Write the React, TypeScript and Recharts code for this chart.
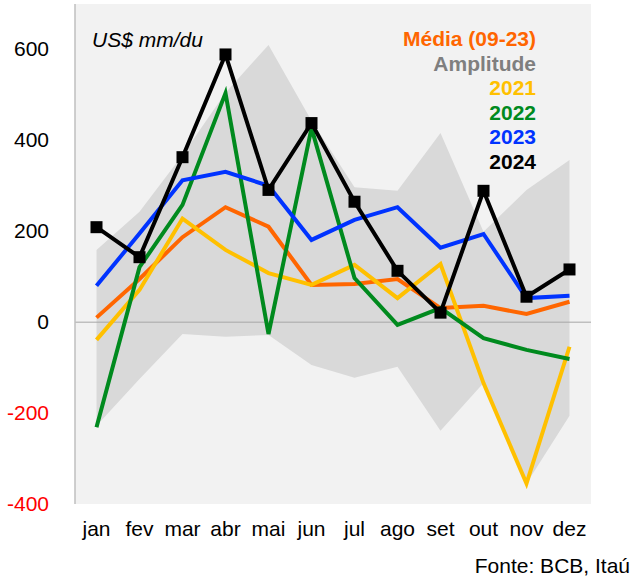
import {
  Area,
  CartesianGrid,
  ComposedChart,
  Line,
  ReferenceLine,
  XAxis,
  YAxis,
} from "recharts";

const months = ["jan", "fev", "mar", "abr", "mai", "jun", "jul", "ago", "set", "out", "nov", "dez"];
const media = [10, 95, 187, 253, 210, 82, 84, 95, 31, 36, 18, 45];
const ampMin = [-228, -125, -26, -32, -28, -94, -122, -98, -239, -134, -355, -206];
const ampMax = [159, 243, 368, 505, 610, 443, 297, 289, 416, 199, 291, 357];
const y2021 = [-39, 71, 228, 159, 108, 82, 126, 53, 128, -134, -355, -54];
const y2022 = [-231, 121, 258, 504, -26, 427, 97, -6, 31, -35, -61, -81];
const y2023 = [80, 195, 312, 331, 300, 181, 225, 253, 164, 194, 53, 58];
const y2024 = [209, 143, 363, 589, 291, 438, 265, 113, 21, 289, 56, 116];
const yTicks = [-400, -200, 0, 200, 400, 600];

const legendItems = [
  { label: "Média (09-23)", color: "#ff6600" },
  { label: "Amplitude", color: "#7f7f7f" },
  { label: "2021", color: "#ffc000" },
  { label: "2022", color: "#008a1e" },
  { label: "2023", color: "#0033ff" },
  { label: "2024", color: "#000000" },
];

const data = months.map((m, i) => ({
  month: m,
  range: [ampMin[i], ampMax[i]],
  media: media[i],
  y2021: y2021[i],
  y2022: y2022[i],
  y2023: y2023[i],
  y2024: y2024[i],
}));

const FONT = '"Liberation Sans", Arial, sans-serif';

const YTick = (props: any) => {
  const { x, y, payload } = props;
  return (
    <text
      x={x}
      y={y}
      dy={7}
      textAnchor="end"
      fontFamily={FONT}
      fontSize={21}
      fill={payload.value < 0 ? "#ff0000" : "#000000"}
    >
      {payload.value}
    </text>
  );
};

const Square = (props: any) => {
  const { cx, cy, index } = props;
  if (cx == null || cy == null) return <g key={`sq-${index}`} />;
  return <rect key={`sq-${index}`} x={cx - 6} y={cy - 6} width={12} height={12} fill="#000" />;
};

export default function App() {
  return (
    <div style={{ position: "absolute", left: 0, top: 0, width: 634, height: 582, background: "#fff" }}>
      <ComposedChart
        width={634}
        height={582}
        data={data}
        margin={{ top: 4, right: 43, left: 0, bottom: 0 }}
      >
        <CartesianGrid fill="#f2f2f2" horizontal={false} vertical={false} />
        <XAxis
          dataKey="month"
          axisLine={false}
          tickLine={false}
          height={78}
          tickMargin={11}
          padding={{ left: 21.5, right: 21.5 }}
          tick={{ fill: "#000", fontSize: 21, fontFamily: FONT }}
          interval={0}
        />
        <YAxis
          domain={[-400, 700]}
          ticks={yTicks}
          width={75}
          tickLine={false}
          tickMargin={20}
          axisLine={{ stroke: "#bfbfbf", strokeWidth: 1.5 }}
          tick={<YTick />}
          allowDataOverflow
        />
        <Area
          dataKey="range"
          type="linear"
          stroke="none"
          fill="#d9d9d9"
          fillOpacity={1}
          isAnimationActive={false}
        />
        <ReferenceLine y={0} stroke="#a6a6a6" strokeWidth={1} />
        <Line dataKey="media" type="linear" stroke="#ff6600" strokeWidth={4} dot={false} isAnimationActive={false} />
        <Line dataKey="y2021" type="linear" stroke="#ffc000" strokeWidth={4} dot={false} isAnimationActive={false} />
        <Line dataKey="y2022" type="linear" stroke="#008a1e" strokeWidth={4} dot={false} isAnimationActive={false} />
        <Line dataKey="y2023" type="linear" stroke="#0033ff" strokeWidth={4} dot={false} isAnimationActive={false} />
        <Line dataKey="y2024" type="linear" stroke="#000000" strokeWidth={4} dot={<Square />} isAnimationActive={false} />
      </ComposedChart>

      <div
        style={{
          position: "absolute",
          left: 92,
          top: 28,
          fontFamily: FONT,
          fontSize: 21,
          fontStyle: "italic",
          lineHeight: "24.6px",
          color: "#000",
        }}
      >
        US$ mm/du
      </div>

      <div
        style={{
          position: "absolute",
          right: 98,
          top: 27,
          textAlign: "right",
          fontFamily: FONT,
          fontSize: 21,
          fontWeight: "bold",
          lineHeight: "24.6px",
        }}
      >
        {legendItems.map((item) => (
          <div key={item.label} style={{ color: item.color }}>
            {item.label}
          </div>
        ))}
      </div>

      <div
        style={{
          position: "absolute",
          right: 4,
          top: 554,
          fontFamily: FONT,
          fontSize: 21,
          lineHeight: "24px",
          color: "#000",
        }}
      >
        Fonte: BCB, Itaú
      </div>
    </div>
  );
}
